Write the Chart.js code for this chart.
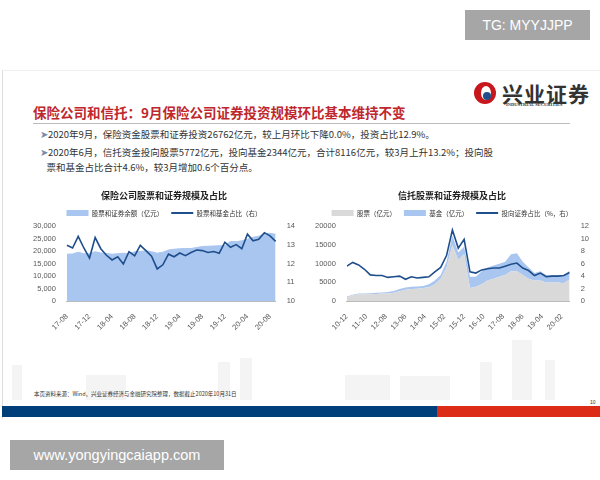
<!DOCTYPE html>
<html><head><meta charset="utf-8">
<script src="https://cdn.jsdelivr.net/npm/chart.js@4"></script>
<style>
body{margin:0;width:600px;height:480px;background:#fff;position:relative;overflow:hidden;font-family:"Noto Sans CJK SC","Noto Sans",sans-serif}
.a{position:absolute}
.sk{position:absolute;background:#f4f4f4}
</style></head><body>
<div class="a" style="left:465px;top:10px;width:125px;height:30px;background:#a6a6a6;color:#fff;font:14px 'Liberation Sans',sans-serif;line-height:30px;text-align:center">TG: MYYJJPP</div>
<div class="a" style="left:2px;top:70px;width:598px;height:348px;border-left:1px solid #ddd;border-top:1px solid #eee"></div>
<div class="sk" style="left:12px;top:365px;width:10px;height:35px"></div>
<div class="sk" style="left:86px;top:375px;width:40px;height:25px"></div>
<div class="sk" style="left:218px;top:362px;width:12px;height:38px"></div>
<div class="sk" style="left:240px;top:358px;width:12px;height:42px"></div>
<div class="sk" style="left:345px;top:375px;width:45px;height:25px"></div>
<div class="sk" style="left:400px;top:376px;width:50px;height:24px"></div>
<div class="sk" style="left:480px;top:362px;width:12px;height:38px"></div>
<div class="sk" style="left:512px;top:340px;width:20px;height:60px"></div>
<div class="sk" style="left:545px;top:360px;width:10px;height:40px"></div>
<div class="a" style="left:474px;top:82px;width:22px;height:22px;border-radius:50%;background:#c8161d"></div>
<div class="a" style="left:481px;top:86px;width:10px;height:14px;border-radius:50%;background:#fff"></div>
<div class="a" style="left:483px;top:92px;width:8px;height:8px;border-radius:50%;background:#1f4e8c"></div>
<div class="a" style="left:502px;top:78px;font:bold 21px 'Noto Sans CJK SC';color:#333;letter-spacing:1px">兴业证券</div>
<div class="a" style="left:506px;top:102px;font:bold 4.5px 'Liberation Serif';color:#333">INDUSTRIAL SECURITIES</div>
<div class="a" style="left:33px;top:102px;font:bold 13.5px 'Noto Sans CJK SC';color:#c0272d">保险公司和信托：9月保险公司证券投资规模环比基本维持不变</div>
<div class="a" style="left:33px;top:123px;width:537px;height:1px;background:#bbb"></div>
<div class="a" style="left:40px;top:127px;font:9.5px 'Noto Sans CJK SC';color:#333;line-height:15px;width:520px">
<div><span style="color:#7a8aa8">➤</span>2020年9月，保险资金股票和证券投资26762亿元，较上月环比下降0.0%，投资占比12.9%。</div>
<div style="margin-top:3px"><span style="color:#7a8aa8">➤</span>2020年6月，信托资金投向股票5772亿元，投向基金2344亿元，合计8116亿元，较3月上升13.2%；投向股<br>&nbsp;&nbsp;&nbsp;票和基金占比合计4.6%，较3月增加0.6个百分点。</div></div>
<canvas id="c1" class="a" style="left:8px;top:188px" width="292" height="147"></canvas>
<canvas id="c2" class="a" style="left:302px;top:188px" width="292" height="147"></canvas>
<div class="a" style="left:34px;top:390px;font:5.5px 'Noto Sans CJK SC';color:#333">本页资料来源：Wind，兴业证券经济与金融研究院整理，数据截止2020年10月31日</div>
<div class="a" style="left:590px;top:399px;font:5px 'Liberation Sans';color:#333">10</div>
<div class="a" style="left:2px;top:406px;width:435px;height:11px;background:#003f7a"></div>
<div class="a" style="left:437px;top:406px;width:163px;height:11px;background:#dc2b16"></div>
<div class="a" style="left:10px;top:440px;width:214px;height:30px;background:#a6a6a6;color:#fff;font:14.5px 'Liberation Sans',sans-serif;line-height:30px;text-align:center">www.yongyingcaiapp.com</div>
<script>
const leftLabels=['17-08','17-09','17-10','17-11','17-12','18-01','18-02','18-03','18-04','18-05','18-06','18-07','18-08','18-09','18-10','18-11','18-12','19-01','19-02','19-03','19-04','19-05','19-06','19-07','19-08','19-09','19-10','19-11','19-12','20-01','20-02','20-03','20-04','20-05','20-06','20-07','20-08','20-09'];
const insAmount=[18800,18900,19600,19000,19000,19800,19300,19100,18800,19000,19200,19000,19800,19900,20200,19800,19200,19600,20500,20800,21000,21100,21100,21500,21900,22000,22100,22200,22300,23900,23800,24200,24800,25600,26000,27000,27200,26762];
const insRatio=[12.99,12.84,13.46,12.84,12.3,13.4,12.8,12.45,12.2,12.37,11.98,12.64,12.42,12.98,12.7,12.4,11.72,11.94,12.51,12.37,12.57,12.43,12.6,12.73,12.7,12.6,12.65,12.56,13.15,12.88,13.02,12.8,13.58,13.22,13.3,13.66,13.49,13.19];
const trustQuarters=['10-12','11-03','11-06','11-09','11-12','12-03','12-06','12-09','12-12','13-03','13-06','13-09','13-12','14-03','14-06','14-09','14-12','15-03','15-06','15-09','15-12','16-03','16-06','16-09','16-12','17-03','17-06','17-09','17-12','18-03','18-06','18-09','18-12','19-03','19-06','19-09','19-12','20-03','20-06'];
const trustStocks=[1000,1500,1800,1800,1800,1900,2000,2000,2200,2600,3000,3200,3300,3500,3700,4500,6000,9000,15000,11000,12500,3500,3800,4500,5500,6000,6500,7000,8000,8000,7000,6000,5500,5500,5000,5000,5000,4800,5772];
const trustFunds=[200,200,200,200,300,300,300,400,500,600,600,600,600,500,800,1000,1000,1500,2500,2000,2000,3000,2700,3500,3500,3500,3500,3500,4500,4800,3500,3000,2000,2500,2000,2000,2000,2200,2344];
const trustRatio=[5.6,6.2,5.8,5.1,4.2,4.1,4.1,3.8,3.9,4.0,3.5,3.9,3.7,3.8,3.9,4.7,5.4,7.3,11.4,8.5,9.9,4.7,4.5,5.0,5.2,5.3,5.3,5.6,5.9,6.1,5.3,4.9,4.1,4.5,3.9,4.0,4.0,4.1,4.6];
const rightTickLabels=['10-12','11-10','12-08','13-06','14-04','15-02','15-12','16-10','17-08','18-06','19-04','20-02'];

const F="'Noto Sans CJK SC'";
const tick={color:'#595959',font:{size:7.5,family:"'Liberation Sans'"}};
function lineLegend(){return {display:true,labels:{font:{size:6.5,family:F},color:'#333',padding:8,boxHeight:6,usePointStyle:true,pointStyleWidth:22,
 generateLabels(ch){return ch.data.datasets.map((d,i)=>({text:d.label,fillStyle:d.backgroundColor,strokeStyle:d.borderColor,lineWidth:d.fill===false?2:0,pointStyle:d.fill===false?'line':'rect',datasetIndex:i,fontColor:'#333'}))}}}};

new Chart(document.getElementById('c1'),{type:'line',data:{labels:leftLabels,datasets:[
{label:'股票和证券余额（亿元）',data:insAmount,fill:'origin',backgroundColor:'#a9c6f0',borderColor:'#a9c6f0',borderWidth:1,pointRadius:0,yAxisID:'y',tension:0,order:2},
{label:'股票和基金占比（右）',data:insRatio,fill:false,borderColor:'#1f4e8c',backgroundColor:'#1f4e8c',borderWidth:1.6,pointRadius:0,yAxisID:'y1',tension:0,order:0}]},
options:{responsive:false,animation:false,layout:{padding:{left:22,right:2,top:0,bottom:0}},
plugins:{title:{display:true,text:'保险公司股票和证券规模及占比',font:{size:9,weight:'bold',family:F},color:'#222',padding:{top:2,bottom:1}},legend:lineLegend(),tooltip:{enabled:false}},
scales:{x:{offset:false,grid:{display:false},border:{color:'#bbb'},ticks:{...tick,autoSkip:false,maxRotation:45,minRotation:45,callback:(v,i)=>i%4===0?leftLabels[i]:''}},
y:{min:0,max:30000,grid:{display:false},border:{display:false},ticks:{...tick,stepSize:5000,callback:v=>v.toLocaleString('en-US')}},
y1:{position:'right',min:10,max:14,grid:{display:false},border:{display:false},ticks:{...tick,stepSize:0.5,callback:v=>Math.round(v)}}}}});

const qx=trustQuarters.map((q,i)=>i*3);
const monthIdx=s=>{const[y,m]=s.split('-').map(Number);return (y-10)*12+m-12;};
new Chart(document.getElementById('c2'),{type:'line',data:{datasets:[
{label:'股票（亿元）',data:trustStocks.map((v,i)=>({x:qx[i],y:v})),fill:'origin',backgroundColor:'#d9d9d9',borderColor:'#d9d9d9',borderWidth:0,pointRadius:0,yAxisID:'y',stack:'s',order:1},
{label:'基金（亿元）',data:trustFunds.map((v,i)=>({x:qx[i],y:v})),fill:'-1',backgroundColor:'#a9c6f0',borderColor:'#a9c6f0',borderWidth:0,pointRadius:0,yAxisID:'y',stack:'s',order:2},
{label:'投向证券占比（%，右）',data:trustRatio.map((v,i)=>({x:qx[i],y:v})),fill:false,borderColor:'#1f4e8c',backgroundColor:'#1f4e8c',borderWidth:1.6,pointRadius:0,yAxisID:'y1',order:0}]},
options:{responsive:false,animation:false,layout:{padding:{left:10,right:2}},
plugins:{title:{display:true,text:'信托股票和证券规模及占比',font:{size:9,weight:'bold',family:F},color:'#222',padding:{top:2,bottom:1}},legend:lineLegend(),tooltip:{enabled:false}},
scales:{x:{type:'linear',min:0,max:114,grid:{display:false},border:{color:'#bbb'},
 afterBuildTicks:ax=>{ax.ticks=rightTickLabels.map(l=>({value:monthIdx(l)}));},
 ticks:{...tick,autoSkip:false,maxRotation:45,minRotation:45,callback:v=>rightTickLabels.find(l=>monthIdx(l)===v)||''}},
y:{stacked:true,min:0,max:20000,grid:{display:false},border:{display:false},ticks:{...tick,stepSize:5000,callback:v=>String(v)}},
y1:{position:'right',min:0,max:12,grid:{display:false},border:{display:false},ticks:{...tick,stepSize:2}}}}});
</script></body></html>
